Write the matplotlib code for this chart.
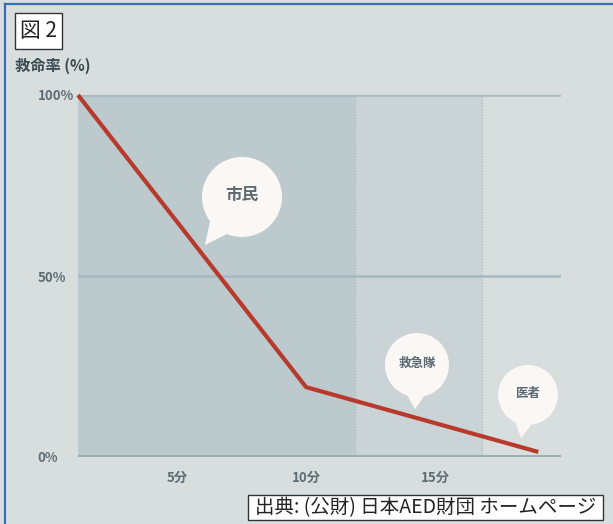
import numpy as np
import matplotlib
matplotlib.use("Agg")
import matplotlib.pyplot as plt
from matplotlib.patches import Rectangle, Circle, Polygon

plt.rcParams['font.family'] = ['Noto Sans CJK JP', 'DejaVu Sans']

# data
minutes = [1.16, 10, 19]          # elapsed time (min)
survival = [100, 19.3, 1.4]       # survival rate (%)
zone_edges = [1.16, 11.9, 16.8, 19.88]   # citizen / ambulance / doctor
x_ticks = [5, 10, 15]
x_labels = ['5分', '10分', '15分']
y_ticks = [0, 50, 100]
y_labels = ['0%', '50%', '100%']

bg = '#d8dede'
label_col = '#5e6d73'

fig = plt.figure(figsize=(6.13, 5.24), dpi=100, facecolor=bg)
W, H = 613, 524
ax = fig.add_axes([78 / W, 67 / H, 483 / W, 362 / H])
ax.set_facecolor(bg)
ax.set_xlim(zone_edges[0], zone_edges[-1])
ax.set_ylim(0, 100)
for s in ax.spines.values():
    s.set_visible(False)

# zones
ax.axvspan(zone_edges[0], zone_edges[1], color='#bccacd', lw=0, zorder=0)
ax.axvspan(zone_edges[1], zone_edges[2], color='#cad4d7', lw=0, zorder=0)
for e in zone_edges[1:3]:
    ax.axvline(e, color='#a5b2b6', lw=0.8, ls=':', zorder=1)

# grid lines
ax.axhline(100, color='#a6b9c0', lw=1.8, zorder=1)
ax.axhline(50, color='#a6b9c0', lw=1.8, zorder=1)
ax.axhline(0, color='#98aeb5', lw=2.8, zorder=1)

ax.plot(minutes, survival, color='#b83a2d', lw=3, zorder=3, clip_on=False,
        solid_capstyle='butt')

ax.set_yticks(y_ticks)
ax.set_yticklabels(y_labels, fontsize=9.5, fontweight='bold', color=label_col, ha='left')
ax.tick_params(axis='y', length=0, pad=29)
ax.set_xticks(x_ticks)
ax.set_xticklabels(x_labels, fontsize=9.5, fontweight='bold', color=label_col)
ax.tick_params(axis='x', length=0, pad=10)

# overlay in pixel coordinates for the decorations
ov = fig.add_axes([0, 0, 1, 1], zorder=5)
ov.set_xlim(0, W)
ov.set_ylim(H, 0)
ov.axis('off')
ov.patch.set_alpha(0)

ov.plot([5, 5], [H, 4], color='#3b6db5', lw=1.6)
ov.plot([5, W], [4, 4], color='#3b6db5', lw=1.6)

ov.add_patch(Rectangle((15, 13), 47, 36, facecolor='white', edgecolor='#333333', lw=1))
ov.text(38.5, 31, '図 2', fontsize=15, ha='center', va='center', color='#222222')
ov.text(15, 66, '救命率 (%)', fontsize=11, fontweight='bold', ha='left', va='center',
        color='#3b4a51')

ov.add_patch(Rectangle((248, 495), 355, 25, facecolor='white', edgecolor='#333333', lw=1))
ov.text(425.5, 507.5, '出典: (公財) 日本AED財団 ホームページ', fontsize=14,
        ha='center', va='center', color='#222222')


def bubble(cx, cy, r, tx, ty, text, size):
    ang = np.arctan2(ty - cy, tx - cx)
    d = 0.27
    p1 = (cx + r * np.cos(ang - d), cy + r * np.sin(ang - d))
    p2 = (cx + r * np.cos(ang + d), cy + r * np.sin(ang + d))
    fc = '#fbf7f5'
    ov.add_patch(Circle((cx, cy), r, facecolor=fc, edgecolor='none'))
    ov.add_patch(Polygon([p1, (tx, ty), p2], closed=True, facecolor=fc, edgecolor='none'))
    ov.text(cx, cy - 2, text, fontsize=size, fontweight='bold', ha='center', va='center',
            color='#5a6a72')


bubble(242, 197, 40, 205, 245, '市民', 12)
bubble(417, 365, 32, 415, 409, '救急隊', 9)
bubble(528, 395, 30, 521, 438, '医者', 9)

fig.savefig('out.png', dpi=100, facecolor=bg)
